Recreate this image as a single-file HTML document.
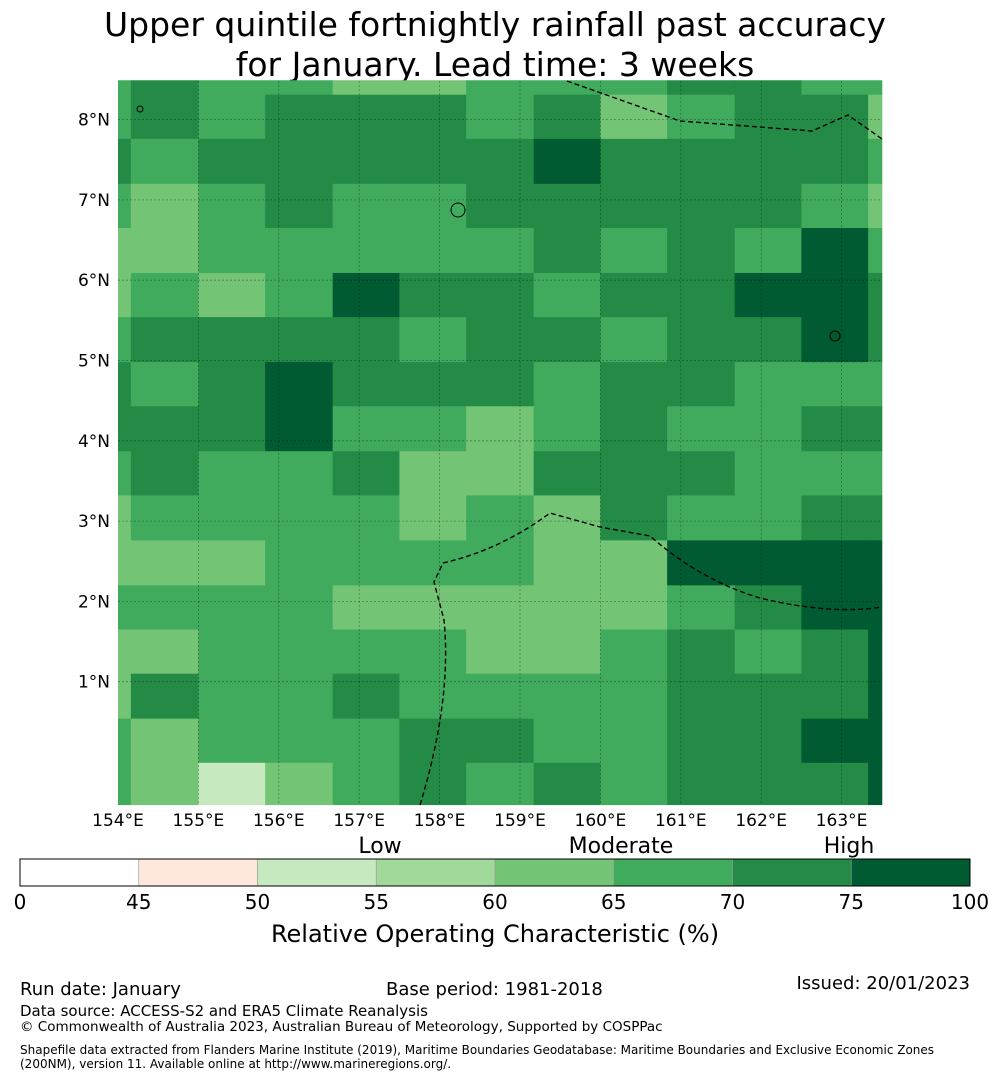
<!DOCTYPE html>
<html><head><meta charset="utf-8"><style>
body{margin:0;background:#fff;width:990px;height:1080px;overflow:hidden}
svg text{font-family:"DejaVu Sans","Liberation Sans",sans-serif}
</style></head><body>
<svg id="chart" width="990" height="1080" viewBox="0 0 990 1080" xmlns="http://www.w3.org/2000/svg">
<text x="495" y="36" font-size="33" text-anchor="middle">Upper quintile fortnightly rainfall past accuracy</text>
<text x="495" y="76" font-size="33" text-anchor="middle">for January. Lead time: 3 weeks</text>
<g id="cells"></g>
<g id="grid"></g>
<g id="bounds"></g>
<g id="axes"></g>
<g id="cbar"></g>
<text x="495" y="942" font-size="24" text-anchor="middle">Relative Operating Characteristic (%)</text>
<text x="380" y="853" font-size="22" text-anchor="middle">Low</text>
<text x="621" y="853" font-size="22" text-anchor="middle">Moderate</text>
<text x="849" y="853" font-size="22" text-anchor="middle">High</text>
<text x="20" y="995" font-size="18">Run date: January</text>
<text x="386" y="995" font-size="18">Base period: 1981-2018</text>
<text x="970" y="989" font-size="18" text-anchor="end">Issued: 20/01/2023</text>
<text x="20" y="1016" font-size="15">Data source: ACCESS-S2 and ERA5 Climate Reanalysis</text>
<text x="20" y="1031" font-size="13.5">© Commonwealth of Australia 2023, Australian Bureau of Meteorology, Supported by COSPPac</text>
<text x="20" y="1054" font-size="12">Shapefile data extracted from Flanders Marine Institute (2019), Maritime Boundaries Geodatabase: Maritime Boundaries and Exclusive Economic Zones</text>
<text x="20" y="1068" font-size="12">(200NM), version 11. Available online at http://www.marineregions.org/.</text>
</svg>
<script>
// Data (ROC %), rows top (north) to bottom, cols west to east
const rocRow00=[67,72,67,67,62,62,67,67,67,72,72,67,67];
const rocRow01=[67,72,67,72,72,72,67,72,62,67,72,72,62];
const rocRow02=[72,67,72,72,72,72,72,80,72,72,72,72,67];
const rocRow03=[67,62,67,72,67,67,72,72,72,72,72,67,62];
const rocRow04=[62,62,67,67,67,67,67,72,67,72,67,80,67];
const rocRow05=[62,67,62,67,80,72,72,67,72,72,80,80,72];
const rocRow06=[67,72,72,72,72,67,72,72,67,72,72,80,72];
const rocRow07=[72,67,72,80,72,72,72,67,72,72,67,67,67];
const rocRow08=[72,72,72,80,67,67,62,67,72,67,67,72,72];
const rocRow09=[67,72,67,67,72,62,62,72,72,72,67,67,67];
const rocRow10=[62,67,67,67,67,62,67,62,72,67,67,72,72];
const rocRow11=[62,62,62,67,67,67,67,62,62,80,80,80,80];
const rocRow12=[67,67,67,67,62,62,62,62,62,67,72,80,80];
const rocRow13=[62,62,67,67,67,67,62,62,67,72,67,72,80];
const rocRow14=[62,72,67,67,72,67,67,67,67,72,72,72,80];
const rocRow15=[67,62,67,67,67,72,72,67,67,72,72,80,80];
const rocRow16=[67,62,52,62,67,72,67,72,67,72,72,72,80];
const rocRows=[rocRow00,rocRow01,rocRow02,rocRow03,rocRow04,rocRow05,rocRow06,rocRow07,rocRow08,rocRow09,rocRow10,rocRow11,rocRow12,rocRow13,rocRow14,rocRow15,rocRow16];
// cell edges (degrees)
const lonEdges=[154.0,154.16,155.0,155.83,156.67,157.5,158.33,159.17,160.0,160.83,161.67,162.5,163.33,163.5];
const latEdges=[8.49,8.31,7.76,7.2,6.65,6.09,5.54,4.98,4.43,3.87,3.32,2.76,2.2,1.65,1.1,0.54,-0.01,-0.53];
const lonTicks=[154,155,156,157,158,159,160,161,162,163];
const latTicks=[1,2,3,4,5,6,7,8];
const cbarBounds=[0,45,50,55,60,65,70,75,100];
const cbarColors=["#ffffff","#fee8de","#c7e9c0","#a1d99b","#74c476","#41ab5d","#238b45","#005a32"];

const NS="http://www.w3.org/2000/svg";
const X=lon=>118+(lon-154)*80.4;
const Y=lat=>762-lat*80.3;
function mk(tag,parent,attrs){const e=document.createElementNS(NS,tag);for(const k in attrs)e.setAttribute(k,attrs[k]);parent.appendChild(e);return e;}
function color(v){for(let i=cbarBounds.length-2;i>=0;i--){if(v>=cbarBounds[i])return cbarColors[i];}return cbarColors[0];}

const cells=document.getElementById('cells');
rocRows.forEach((row,r)=>{row.forEach((v,c)=>{
  const x0=X(lonEdges[c]),x1=X(lonEdges[c+1]),y0=Y(latEdges[r]),y1=Y(latEdges[r+1]);
  const rc=mk('rect',cells,{x:x0,y:y0,width:x1-x0+0.5,height:y1-y0+0.5,fill:color(v)});
  
  
});});

const grid=document.getElementById('grid');
const axes=document.getElementById('axes');
const mapTop=81,mapBot=805,mapLeft=118,mapRight=882;
lonTicks.forEach(t=>{
  if(t>154){const l=mk('line',grid,{x1:X(t),x2:X(t),y1:mapTop,y2:mapBot,stroke:'#000','stroke-opacity':0.35,'stroke-width':0.8,'stroke-dasharray':'2,2'});
  
  }
  const tx=mk('text',axes,{x:X(t),y:826,'font-size':17,'text-anchor':'middle'});tx.textContent=t+'°E';
  
  
});
latTicks.forEach(t=>{
  const l=mk('line',grid,{x1:mapLeft,x2:mapRight,y1:Y(t),y2:Y(t),stroke:'#000','stroke-opacity':0.35,'stroke-width':0.8,'stroke-dasharray':'2,2'});
  
  
  const tx=mk('text',axes,{x:110,y:Y(t)+6,'font-size':17,'text-anchor':'end'});tx.textContent=t+'°N';
  
  
});

const bounds=document.getElementById('bounds');
const b1=mk('path',bounds,{d:'M567,81 L680,121 L812,131 L848,115 L882,139',fill:'none',stroke:'#000','stroke-width':1.4,'stroke-dasharray':'5,3'});


const b2=mk('path',bounds,{d:'M420,805 Q452,700 444,620 L434,582 L443,563 Q500,550 550,513 L600,527 L650,536 Q700,580 760,598 Q830,615 882,607',fill:'none',stroke:'#000','stroke-width':1.4,'stroke-dasharray':'5,3'});


[[458,210,7],[835,336,5],[140,109,3]].forEach((p,i)=>{
  const c=mk('circle',bounds,{cx:p[0],cy:p[1],r:p[2],fill:'none',stroke:'#000','stroke-width':1});
  
  
});

const cb=document.getElementById('cbar');
const cbL=20,cbW=950,seg=cbW/(cbarBounds.length-1);
cbarColors.forEach((col,i)=>{
  const r=mk('rect',cb,{x:cbL+i*seg,y:859,width:seg,height:27,fill:col,stroke:'#999','stroke-width':0.6});
  
  
});
mk('rect',cb,{x:cbL,y:859,width:cbW,height:27,fill:'none',stroke:'#000','stroke-width':1});
cbarBounds.forEach((b,i)=>{
  const t=mk('text',cb,{x:cbL+i*seg,y:909,'font-size':20,'text-anchor':'middle'});t.textContent=b;
  
  
});
</script>
</body></html>
